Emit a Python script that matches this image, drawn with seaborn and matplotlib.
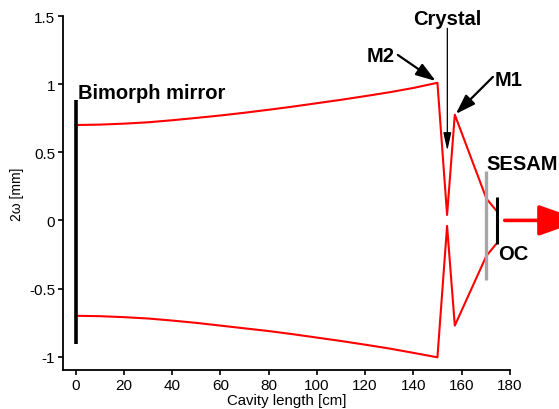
import matplotlib
matplotlib.use("Agg")
import matplotlib.pyplot as plt
import seaborn as sns
import pandas as pd

# Beam radius envelope along the cavity (cm, mm)
cavity_z = [0, 10, 20, 30, 40, 50, 60, 70, 80, 90, 100, 110, 120, 130, 140, 150,
            154.0, 157.2, 170.3, 174.5]
upper_w = [0.700, 0.703, 0.710, 0.720, 0.735, 0.752, 0.770, 0.790, 0.812, 0.835,
           0.860, 0.885, 0.912, 0.940, 0.972, 1.010, 0.04, 0.776, 0.16, 0.07]
lower_w = [-0.700, -0.703, -0.710, -0.720, -0.735, -0.752, -0.772, -0.792, -0.812, -0.835,
           -0.860, -0.885, -0.912, -0.940, -0.972, -1.005, -0.04, -0.772, -0.26, -0.17]

# Optical elements
bimorph_z, bimorph_span = 0.0, (-0.906, 0.884)
sesam_z, sesam_span = 170.3, (-0.435, 0.365)
oc_z, oc_span = 174.5, (-0.173, 0.172)

x_ticks = [0, 20, 40, 60, 80, 100, 120, 140, 160, 180]
y_ticks = [-1, -0.5, 0, 0.5, 1, 1.5]
y_tick_labels = ["-1", "-0.5", "0", "0.5", "1", "1.5"]

sns.set_style("ticks")
plt.rcParams["font.family"] = ["Liberation Sans", "DejaVu Sans"]
plt.rcParams["text.color"] = "black"
plt.rcParams["axes.labelcolor"] = "black"

fig = plt.figure(figsize=(5.59, 4.10), dpi=100)
ax = fig.add_axes([0.1127, 0.0951, 0.9120 - 0.1127, 0.9585 - 0.0951])

df = pd.DataFrame({"z": cavity_z, "upper": upper_w, "lower": lower_w})
sns.lineplot(data=df, x="z", y="upper", ax=ax, color="red", lw=1.5, sort=False, estimator=None)
sns.lineplot(data=df, x="z", y="lower", ax=ax, color="red", lw=1.5, sort=False, estimator=None)

ax.plot([bimorph_z, bimorph_z], bimorph_span, color="black", lw=2.6, solid_capstyle="butt")
ax.plot([sesam_z, sesam_z], sesam_span, color="#a6a6a6", lw=2.4, solid_capstyle="butt")
ax.plot([oc_z, oc_z], oc_span, color="black", lw=2.2, solid_capstyle="butt", zorder=5)

ax.set_xlim(-5.2, 180)
ax.set_ylim(-1.098, 1.5)
ax.set_xticks(x_ticks)
ax.set_yticks(y_ticks)
ax.set_yticklabels(y_tick_labels)
ax.tick_params(axis="both", direction="out", length=3.5, width=1.2, labelsize=11, pad=2, colors="black")
for s in ("left", "bottom"):
    ax.spines[s].set_linewidth(1.3)
    ax.spines[s].set_color("black")
sns.despine(ax=ax)

ax.set_xlabel("Cavity length [cm]", fontsize=10.8, labelpad=1)
ax.set_ylabel("2ω [mm]", fontsize=10, labelpad=4)

bold = dict(fontsize=14.5, fontweight="bold", color="black", clip_on=False)
ax.text(0.95, 0.895, "Bimorph mirror", ha="left", va="baseline", **bold)
ax.text(154.1, 1.441, "Crystal", ha="center", va="baseline", **bold)
ax.text(126.3, 1.17, "M2", ha="center", va="baseline", **bold)
ax.text(179.6, 0.994, "M1", ha="center", va="baseline", **bold)
ax.text(170.3, 0.38, "SESAM", ha="left", va="baseline", **bold)
ax.text(175.1, -0.28, "OC", ha="left", va="baseline", **bold)

arrow_bold = dict(arrowstyle="-|>,head_length=0.75,head_width=0.25", color="black", lw=1.6,
                  mutation_scale=16, shrinkA=0, shrinkB=0)
ax.annotate("", xy=(149.3, 1.023), xytext=(133.6, 1.214), arrowprops=arrow_bold, annotation_clip=False)
ax.annotate("", xy=(157.6, 0.781), xytext=(173.0, 1.053), arrowprops=arrow_bold, annotation_clip=False)
ax.annotate("", xy=(154.1, 0.512), xytext=(154.1, 1.41),
            arrowprops=dict(arrowstyle="-|>,head_length=0.9,head_width=0.2", color="black", lw=0.9,
                            mutation_scale=12, shrinkA=0, shrinkB=0), annotation_clip=False)

# Output beam
ax.annotate("", xy=(210.0, 0.0), xytext=(177.9, 0.0),
            arrowprops=dict(arrowstyle="-|>,head_length=1.7,head_width=0.6", color="red", lw=2.6,
                            mutation_scale=16, shrinkA=0, shrinkB=0), annotation_clip=False)

fig.savefig("out.png", dpi=100)
